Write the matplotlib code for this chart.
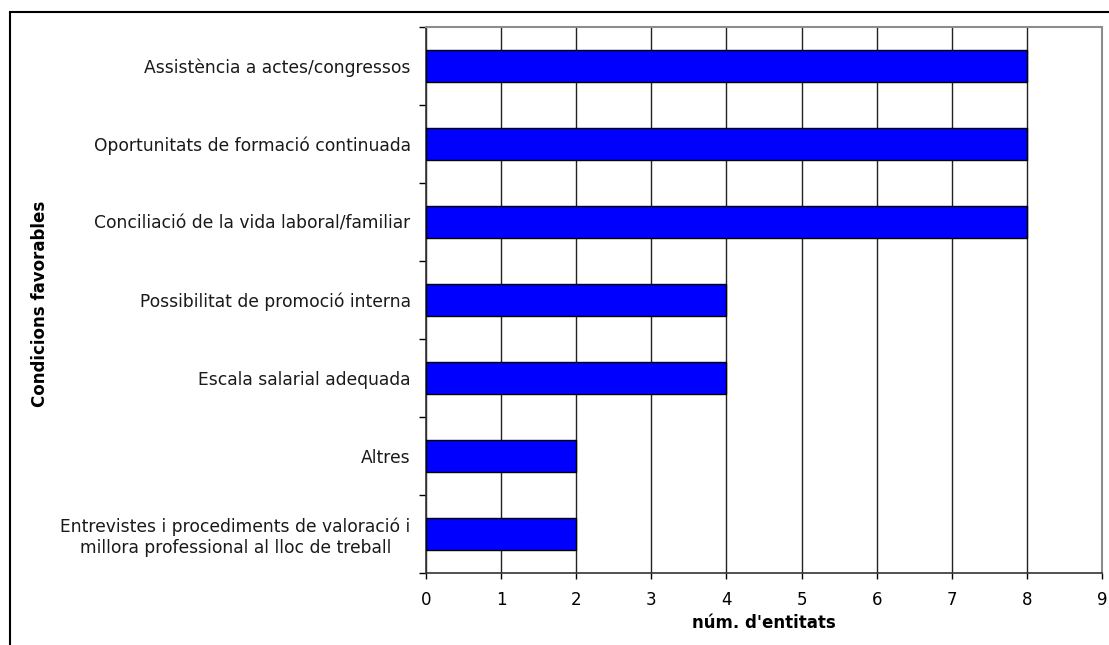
import matplotlib
matplotlib.use("Agg")
from matplotlib import pyplot as plt
from matplotlib.patches import Rectangle
import numpy as np

# condicions favorables (de dalt a baix) i nombre d'entitats
categories = [
    "Assistència a actes/congressos",
    "Oportunitats de formació continuada",
    "Conciliació de la vida laboral/familiar",
    "Possibilitat de promoció interna",
    "Escala salarial adequada",
    "Altres",
    "Entrevistes i procediments de valoració i\nmillora professional al lloc de treball",
]
values = [8, 8, 8, 4, 4, 2, 2]
xticks = list(range(0, 10))

plt.rcParams['font.family'] = ['DejaVu Sans']

fig = plt.figure(figsize=(11.09, 6.45), dpi=100, facecolor='white')
W, H = 1109, 645
ax = fig.add_axes([426 / W, 1 - 573 / H, (1102 - 426) / W, (573 - 27) / H])

n = len(categories)
ypos = np.arange(n)[::-1]
ax.barh(ypos, values, height=0.4, color='#0000ff', edgecolor='black', linewidth=1.0, zorder=3)

ax.set_xlim(0, 9)
ax.set_ylim(-0.5, n - 0.5)
ax.set_xticks(xticks)
ax.set_xticklabels([str(t) for t in xticks], fontsize=12)

# etiquetes de categoria centrades, ticks a les fronteres
ax.set_yticks(ypos)
ax.set_yticklabels(categories, fontsize=12.3, linespacing=1.2, multialignment='center',
                   color='#1a1a1a')
ax.tick_params(axis='y', which='major', length=0, pad=11)
ax.set_yticks(np.arange(-0.5, n, 1.0), minor=True)
ax.tick_params(axis='y', which='minor', length=5, width=1, direction='out')
ax.tick_params(axis='x', which='major', length=4, width=1, direction='out', pad=9)

ax.xaxis.grid(True, color='#222222', linewidth=1.0, zorder=0)
ax.set_axisbelow(True)

for side in ['top', 'right']:
    ax.spines[side].set_color('#8c8c8c')
    ax.spines[side].set_linewidth(1.5)
for side in ['left', 'bottom']:
    ax.spines[side].set_color('#333333')
    ax.spines[side].set_linewidth(1.2)

fig.text((426 + 1102) / 2 / W, 1 - 623 / H, "núm. d'entitats", fontsize=12,
         fontweight='bold', ha='center', va='center')
fig.text(40 / W, 1 - 304 / H, "Condicions favorables", rotation=90,
         fontsize=12, fontweight='bold', ha='center', va='center')

# vora exterior del gràfic
fig.patches.append(Rectangle((10 / W, -0.1), 1.2, 1.1 - 12 / H, transform=fig.transFigure,
                             fill=False, edgecolor='black', linewidth=1.5))

fig.savefig("out.png", dpi=100, facecolor='white')
